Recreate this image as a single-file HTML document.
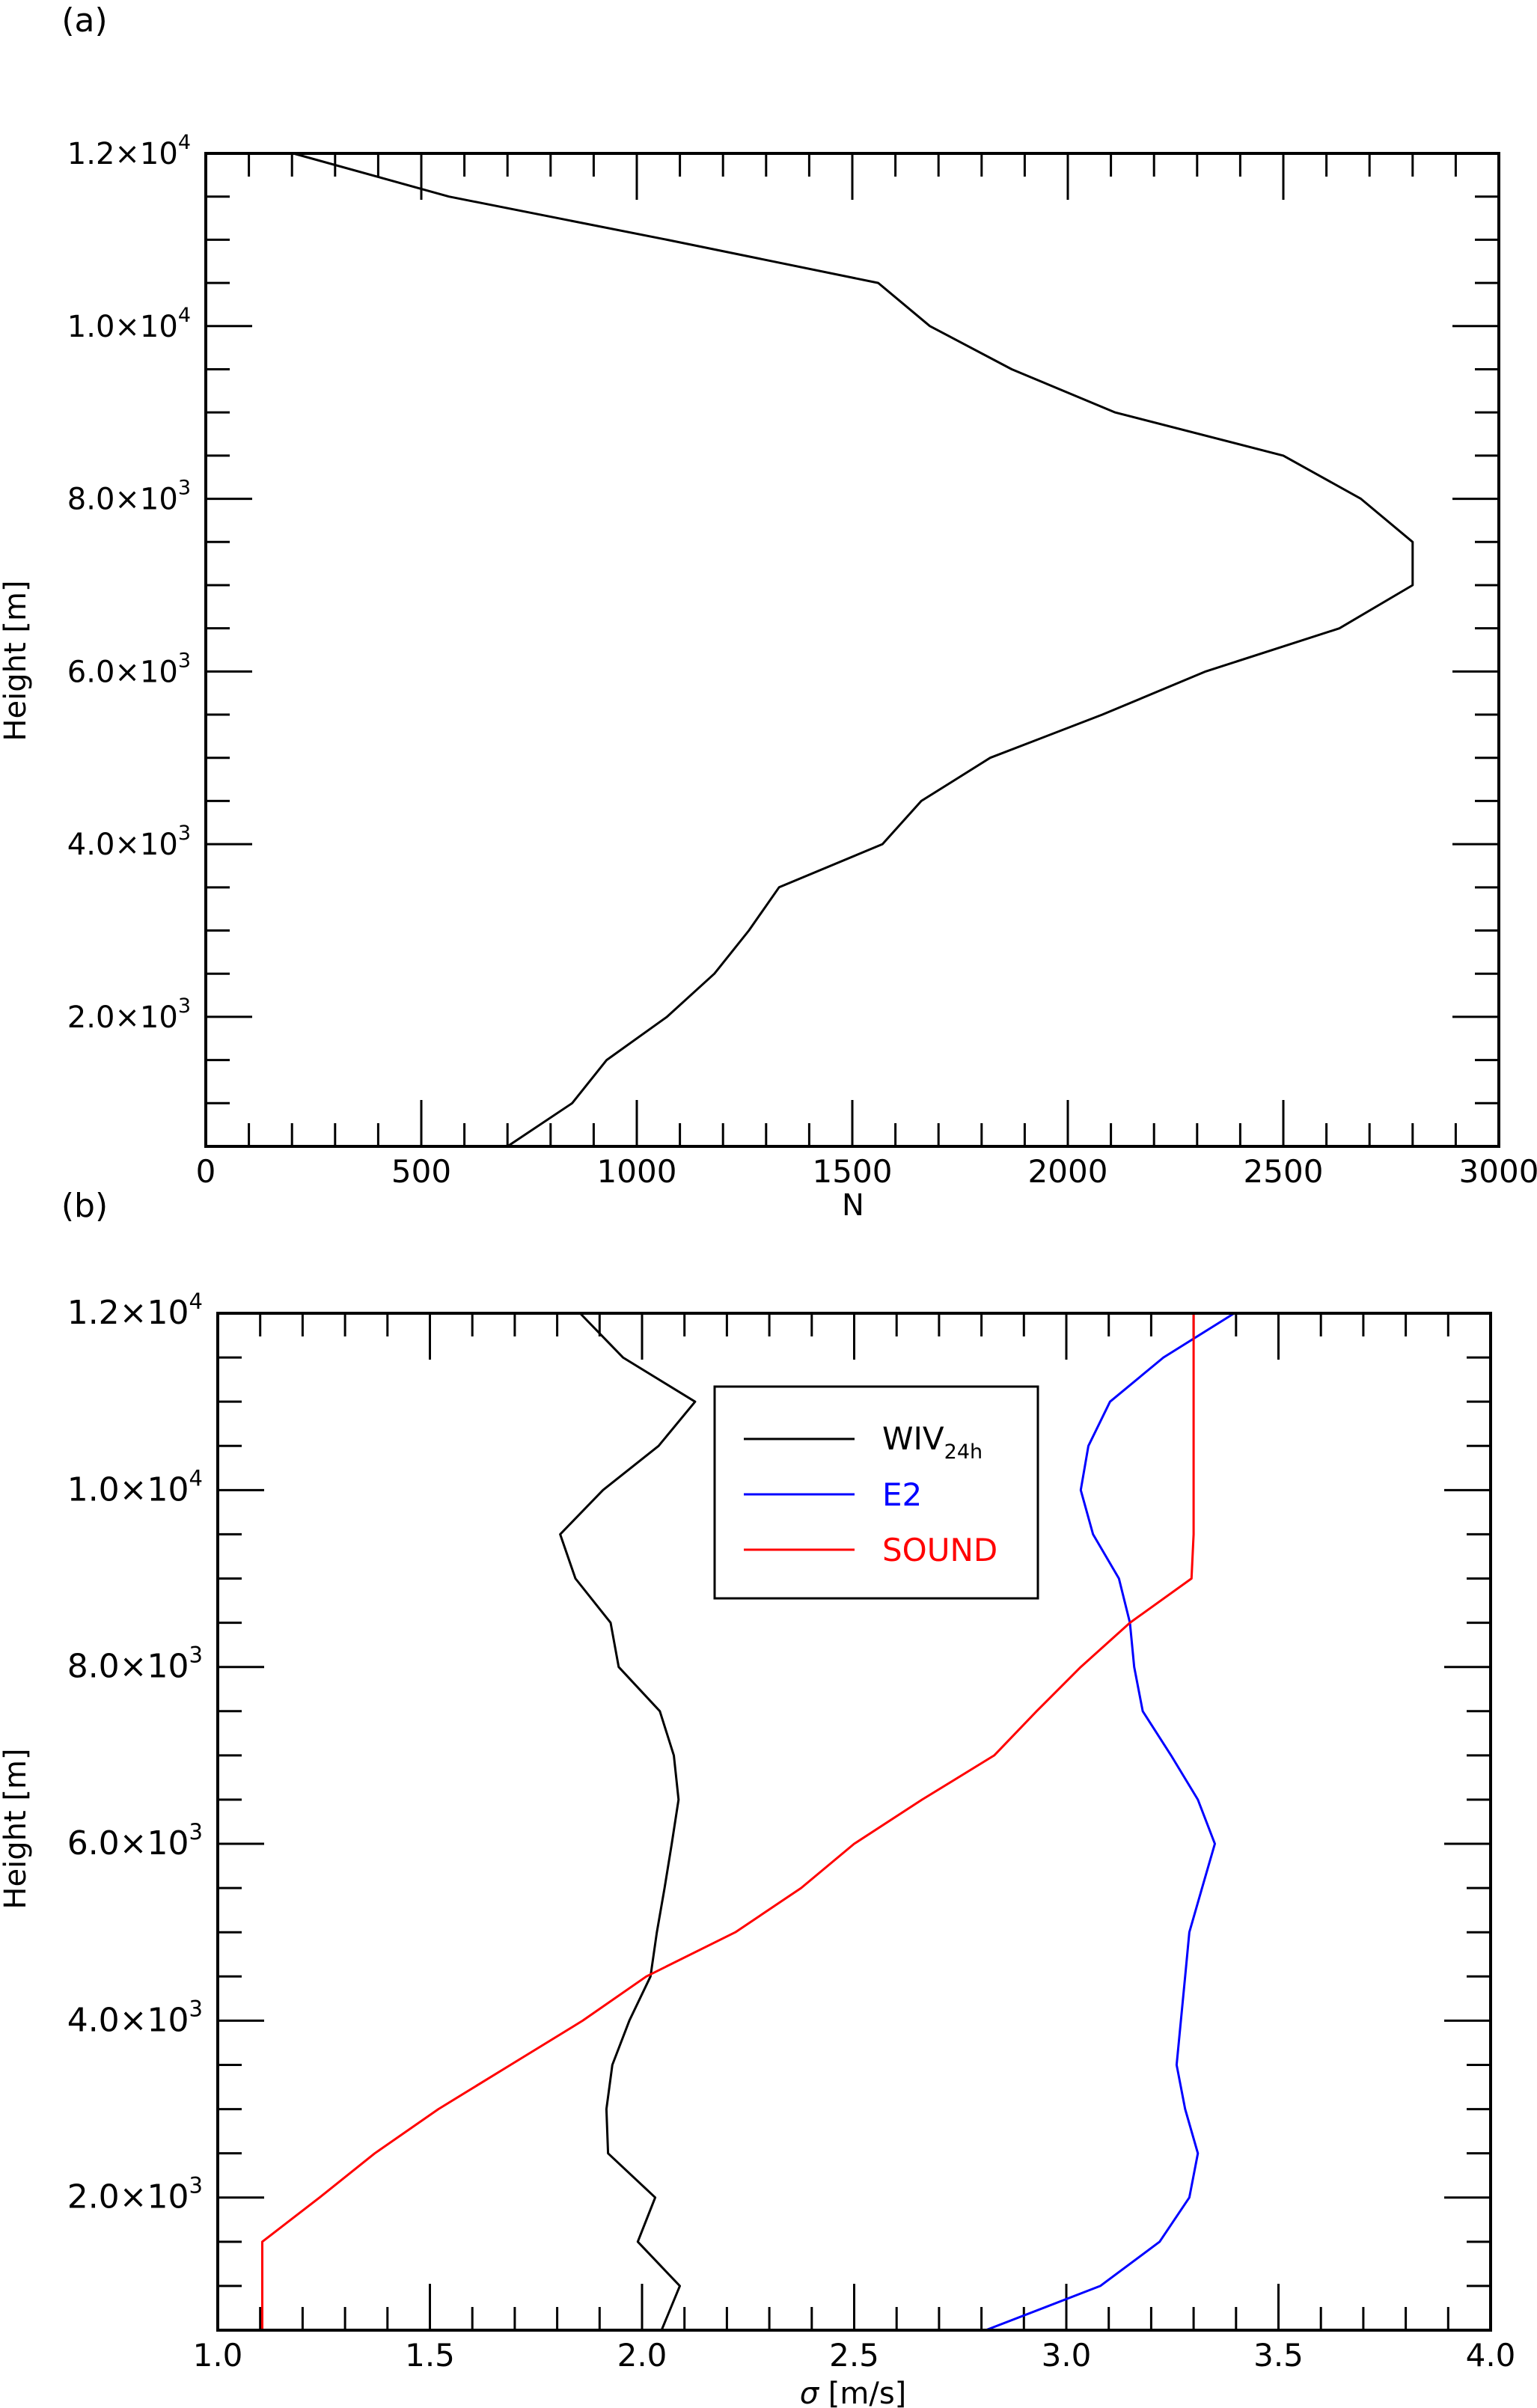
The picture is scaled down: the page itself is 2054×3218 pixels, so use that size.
<!DOCTYPE html>
<html><head><meta charset="utf-8"><style>
html,body{margin:0;padding:0;background:#fff;}
svg{display:block;font-family:"DejaVu Sans","Liberation Sans",sans-serif;}
</style></head><body>
<svg id="fig" width="2054" height="3218" viewBox="0 0 2054 3218" xmlns="http://www.w3.org/2000/svg">
<rect width="2054" height="3218" fill="#fff"/>
<text x="113" y="42" font-size="44" text-anchor="middle">(a)</text>
<text x="113" y="1626" font-size="44" text-anchor="middle">(b)</text>
<text transform="translate(34,883) rotate(-90)" font-size="40" text-anchor="middle">Height [m]</text>
<text transform="translate(34,2444) rotate(-90)" font-size="40" text-anchor="middle">Height [m]</text>
<text x="1140" y="1624" font-size="40" text-anchor="middle">N</text>
<text x="1140" y="3212" font-size="40" text-anchor="middle"><tspan font-style="italic">σ</tspan> [m/s]</text>
<g id="pa"></g>
<g id="pb"></g>
<g>
<rect x="955" y="1853" width="432" height="283" fill="#fff" stroke="#000" stroke-width="3"/>
<g><line x1="994" y1="1923" x2="1142" y2="1923" stroke="#000" stroke-width="3"/><text x="1179" y="1937" font-size="42" fill="#000">WIV<tspan font-size="27" dy="12">24h</tspan></text></g>
<g><line x1="994" y1="1997" x2="1142" y2="1997" stroke="#0000ff" stroke-width="3"/><text x="1179" y="2012" font-size="42" fill="#0000ff">E2</text></g>
<g><line x1="994" y1="2071" x2="1142" y2="2071" stroke="#ff0000" stroke-width="3"/><text x="1179" y="2086" font-size="42" fill="#ff0000">SOUND</text></g>
</g>
</svg>
<script>
const heights = [12000,11500,11000,10500,10000,9500,9000,8500,8000,7500,7000,6500,6000,5500,5000,4500,4000,3500,3000,2500,2000,1500,1000,500];
const nValues = [203,564,1070,1560,1680,1870,2110,2500,2680,2800,2800,2630,2320,2080,1820,1660,1570,1330,1260,1180,1070,930,850,700];
const wivValues = [1.854,1.955,2.125,2.039,1.908,1.807,1.843,1.926,1.945,2.042,2.075,2.086,2.07,2.053,2.035,2.02,1.97,1.93,1.916,1.92,2.031,1.99,2.089,2.046];
const e2Values = [3.396,3.229,3.103,3.052,3.034,3.063,3.124,3.15,3.16,3.18,3.247,3.31,3.35,3.32,3.29,3.28,3.27,3.26,3.28,3.31,3.29,3.22,3.08,2.81];
const soundValues = [3.30,3.30,3.30,3.30,3.30,3.30,3.295,3.15,3.034,2.93,2.83,2.66,2.50,2.375,2.22,2.01,1.86,1.69,1.52,1.37,1.24,1.105,1.105,1.105];
const yTickValues = [2000,4000,6000,8000,10000,12000];
const yTickLabels = ["2.0","4.0","6.0","8.0","1.0","1.2"];
const yTickExp = ["3","3","3","3","4","4"];
const xTicksA = [0,500,1000,1500,2000,2500,3000];
const xTicksB = [1.0,1.5,2.0,2.5,3.0,3.5,4.0];
const NS='http://www.w3.org/2000/svg';
function mk(tag,attrs,parent){const e=document.createElementNS(NS,tag);for(const k in attrs)e.setAttribute(k,attrs[k]);parent.appendChild(e);return e;}
function panel(g,L,R,T,B,xmin,xmax,xMajor,xMinor,xTicks,xFmt,series,pfx,yfs){
  const sx=v=>L+(v-xmin)/(xmax-xmin)*(R-L);
  const sy=v=>B-(v-500)/(12000-500)*(B-T);
  for(let v=xmin;v<=xmax+1e-9;v+=xMinor){
    const isMaj=Math.abs(v/xMajor-Math.round(v/xMajor))<1e-6;
    const len=isMaj?62:31;const x=sx(v);
    const t1=mk('line',{x1:x,y1:B,x2:x,y2:B-len,stroke:'#000','stroke-width':3},g);
    
    
    const t2=mk('line',{x1:x,y1:T,x2:x,y2:T+len,stroke:'#000','stroke-width':3},g);
    
    
  }
  for(let v=1000;v<12000;v+=500){
    const isMaj=v%2000===0;const len=isMaj?62:32;const y=sy(v);
    const t1=mk('line',{x1:L,y1:y,x2:L+len,y2:y,stroke:'#000','stroke-width':3},g);
    
    
    const t2=mk('line',{x1:R,y1:y,x2:R-len,y2:y,stroke:'#000','stroke-width':3},g);
    
    
  }
  xTicks.forEach(v=>{
    const t=mk('text',{x:sx(v),y:B+48,'font-size':42,'text-anchor':'middle'},g);
    t.textContent=xFmt(v);
    
    
  });
  yTickValues.forEach((v,i)=>{
    const t=mk('text',{x:L-20,y:sy(v)+14,'font-size':yfs,'text-anchor':'end'},g);
    
    
    t.appendChild(document.createTextNode(yTickLabels[i]+'×10'));
    const s=mk('tspan',{'font-size':Math.round(yfs*0.67),dy:-20},t);s.textContent=yTickExp[i];
  });
  series.forEach(s=>{
    const d=s.vals.map((v,i)=>(i?'L':'M')+sx(v).toFixed(1)+','+sy(heights[i]).toFixed(1)).join(' ');
    const p=mk('path',{d:d,fill:'none',stroke:s.color,'stroke-width':3,'stroke-linejoin':'round'},g);
    
    
  });
  const fr=mk('rect',{x:L,y:T,width:R-L,height:B-T,fill:'none',stroke:'#000','stroke-width':4},g);
  
  
}
panel(document.getElementById('pa'),275,2003,205,1532,0,3000,500,100,xTicksA,v=>String(v),[{vals:nValues,color:'#000',name:'line-n'}],'a',40);
panel(document.getElementById('pb'),291,1992,1755,3114,1.0,4.0,0.5,0.1,xTicksB,v=>v.toFixed(1),[
  {vals:wivValues,color:'#000',name:'line-wiv24h'},
  {vals:e2Values,color:'#0000ff',name:'line-e2'},
  {vals:soundValues,color:'#ff0000',name:'line-sound'}],'b',44);
</script>
</body></html>
